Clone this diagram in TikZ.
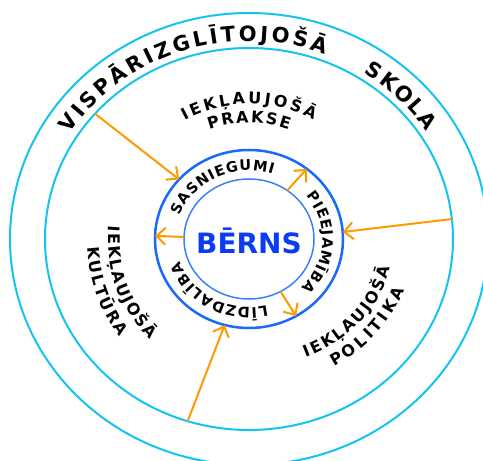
\documentclass[tikz,border=0pt]{standalone}
\usepackage{fontspec}
\setmainfont{DejaVu Sans}
\usetikzlibrary{arrows.meta, decorations.text}
\definecolor{schoolcyan}{RGB}{20,195,240}
\definecolor{ringblue}{RGB}{25,105,250}
\definecolor{childblue}{RGB}{10,60,245}
\definecolor{arroworange}{RGB}{255,153,0}
\newcommand{\bandfont}{\bfseries\fontsize{21}{21}\selectfont}
\newcommand{\zonefont}{\bfseries\fontsize{16}{16}\selectfont}
\newcommand{\ringfont}{\bfseries\fontsize{14.5}{14.5}\selectfont}
\tikzset{
    flow/.style={draw=arroworange, line width=2pt, -{Straight Barb[length=9pt,width=17pt]}},
    curved text/.style={decorate, decoration={text along path, text align={fit to path}, text={#1}}}
}

\begin{document}
\begin{tikzpicture}[x=1pt, y=1pt]
    \useasboundingbox (-249,-222) rectangle (234,239);
    \clip (-249,-222) rectangle (234,239);

    % School - two outer ellipses
    \draw[schoolcyan, line width=2pt] (0,0) ellipse [x radius=239, y radius=226];
    \draw[schoolcyan, line width=2pt] (0,0) ellipse [x radius=204, y radius=191];
    \path[curved text={|\bandfont|VISPĀRIZGLĪTOJOŠĀ}] (148:211 and 198) arc[start angle=148, end angle=69, x radius=211, y radius=198];
    \path[curved text={|\bandfont|SKOLA}] (57:211 and 198) arc[start angle=57, end angle=33, x radius=211, y radius=198];

    % Child ring
    \draw[ringblue, line width=2.5pt] (0,0) ellipse [x radius=94, y radius=89];
    \draw[ringblue!85!white, line width=1.5pt] (0,0) ellipse [x radius=65, y radius=60];
    \node (child) at (0,-2) [font=\bfseries\fontsize{28}{28}\selectfont, text=childblue] {BĒRNS};
    \path[curved text={|\ringfont|SASNIEGUMI}] (160:73.5 and 68.5) arc[start angle=160, end angle=71, x radius=73.5, y radius=68.5];
    \path[curved text={|\ringfont|PIEEJAMĪBA}] (39:73.5 and 68.5) arc[start angle=39, end angle=-45, x radius=73.5, y radius=68.5];
    \path[curved text={|\ringfont|LĪDZDALĪBA}] (-76:73.5 and 68.5) arc[start angle=-76, end angle=-161, x radius=73.5, y radius=68.5];

    % Zones
    \path[curved text={|\zonefont|IEKĻAUJOŠĀ}] (118.5:135) arc[start angle=118.5, end angle=61.5, radius=135];
    \path[curved text={|\zonefont|PRAKSE}] (110:116) arc[start angle=110, end angle=70, radius=116];
    \path[curved text={|\zonefont|IEKĻAUJOŠĀ}] (174.5:141) arc[start angle=174.5, end angle=225.5, radius=141];
    \path[curved text={|\zonefont|KULTŪRA}] (183:162) arc[start angle=183, end angle=217, radius=162];
    \path[curved text={|\zonefont|IEKĻAUJOŠĀ}] (-67:145 and 129) arc[start angle=-67, end angle=-13, x radius=145, y radius=129];
    \path[curved text={|\zonefont|POLITIKA}] (-59:165 and 149) arc[start angle=-59, end angle=-20, x radius=165, y radius=149];

    % Arrow ends
    \coordinate (school-nw) at (139:204 and 191);
    \coordinate (school-e) at (6:204 and 191);
    \coordinate (school-s) at (-107.5:204 and 191);
    \coordinate (ring-nw) at (138:94 and 89);
    \coordinate (ring-e) at (4.5:94 and 89);
    \coordinate (ring-s) at (-105:94 and 89);
    \coordinate (child-ne) at (54:65 and 60);
    \coordinate (child-w) at (178:65 and 60);
    \coordinate (child-se) at (-61:65 and 60);
    \coordinate (ring-ne) at (52:94 and 89);
    \coordinate (ring-w) at (178:94 and 89);
    \coordinate (ring-se) at (-60:94 and 89);

    % Arrows
    \draw[flow] (school-nw) -- (ring-nw);
    \draw[flow] (school-e) -- (ring-e);
    \draw[flow] (school-s) -- (ring-s);
    \draw[flow] (child-ne) -- (ring-ne);
    \draw[flow] (child-w) -- (ring-w);
    \draw[flow] (child-se) -- (ring-se);
\end{tikzpicture}
\end{document}
